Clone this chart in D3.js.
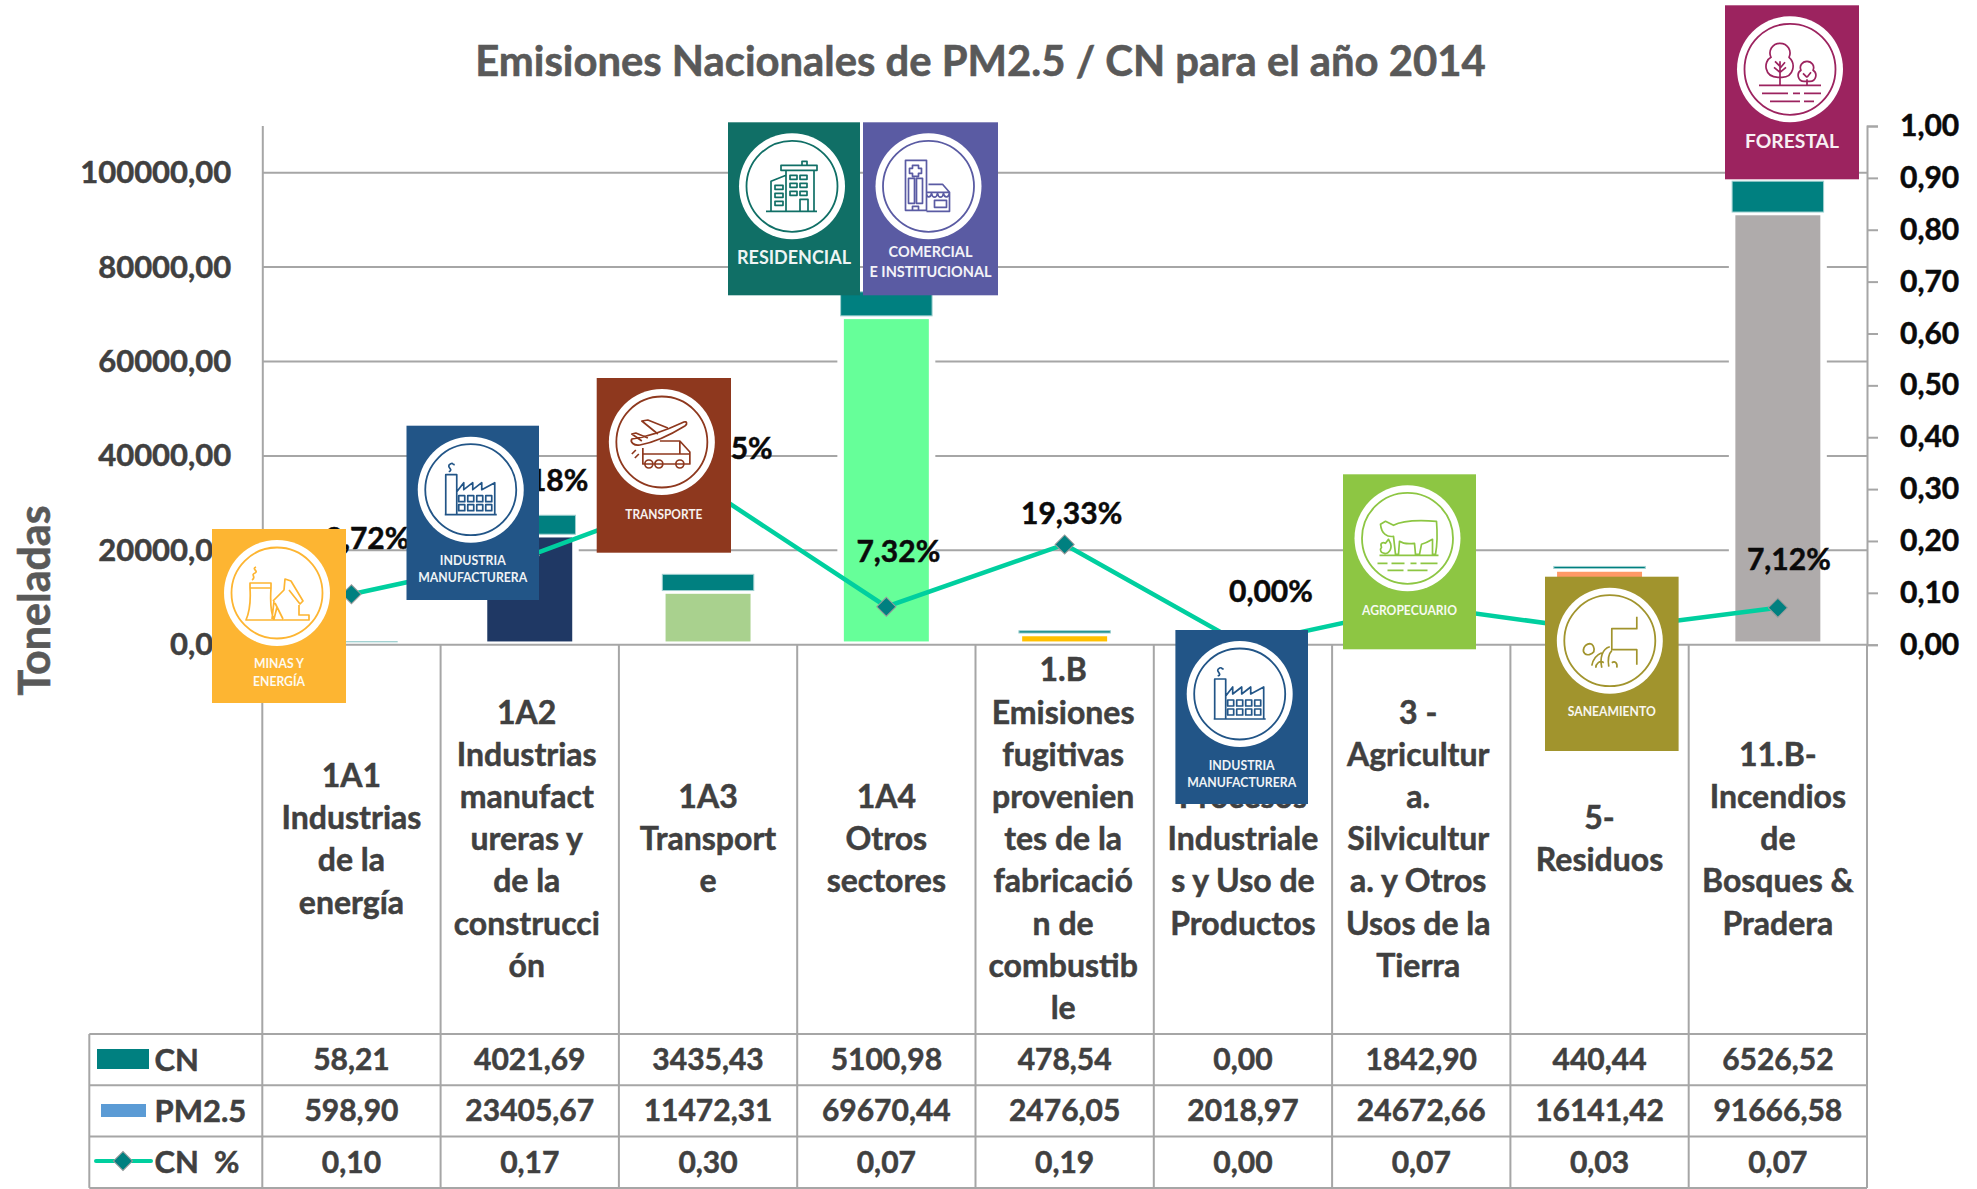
<!DOCTYPE html>
<html lang="es"><head><meta charset="utf-8">
<script src="https://cdn.jsdelivr.net/npm/d3@7/dist/d3.min.js"></script>
<style>
html,body{margin:0;padding:0;background:#fff}
svg{display:block}
text{font-family:Lato,"Open Sans",sans-serif;font-weight:700}
</style></head><body><div id="chart"></div>
<script>
// ---- data ----
const categories = ["1A1","1A2","1A3","1A4","1.B","2","3","5","11.B"];
const categoryLines = [
 ["1A1","Industrias","de la","energía"],
 ["1A2","Industrias","manufact","ureras y","de la","construcci","ón"],
 ["1A3","Transport","e"],
 ["1A4","Otros","sectores"],
 ["1.B","Emisiones","fugitivas","provenien","tes de la","fabricació","n de","combustib","le"],
 ["2 -","Procesos","Industriale","s y Uso de","Productos"],
 ["3 -","Agricultur","a.","Silvicultur","a. y Otros","Usos de la","Tierra"],
 ["5-","Residuos"],
 ["11.B-","Incendios","de","Bosques &","Pradera"]
];
const cnValues = [58.21,4021.69,3435.43,5100.98,478.54,0,1842.90,440.44,6526.52];
const pmValues = [598.90,23405.67,11472.31,69670.44,2476.05,2018.97,24672.66,16141.42,91666.58];
const cnPercent = [0.0972,0.1718,0.2995,0.0732,0.1933,0,0.0747,0.0273,0.0712];
const pmColors = ["#5B9BD5","#1F3864","#A9D18E","#66FF99","#FFC000","#A5A5A5","#70AD47","#FF9966","#AFABAB"];
const leftTicks = [0,20000,40000,60000,80000,100000];
const rightTicks = [0,.1,.2,.3,.4,.5,.6,.7,.8,.9,1];
const titleText = "Emisiones Nacionales de PM2.5 / CN para el año 2014";
const yTitle = "Toneladas";

// ---- layout ----
const W=1977,H=1189, x0=262.3,x1=1867, y0=644.7, yTop=125.5, tableTop=1034, rowH=51.3, tableLeft=89.3;
const GRID="#a6a6a6", TEXT="#404040", TEAL="#008080", LINE="#00CF9F";
const labelOffsets=[[16,-56],[8,-75],[14,-41],[12,-55],[7,-31],[28,-53],[0,-40],[0,-40],[11,-48]];
const catDx=[0,-3,0,0,-1.5,0,-3,0,0];

const loc=d3.formatLocale({decimal:",",thousands:"",grouping:[3],currency:["",""]});
const f2=loc.format(".2f"), pct=loc.format(".2%");

const svg=d3.select("#chart").append("svg").attr("width",W).attr("height",H).attr("viewBox",`0 0 ${W} ${H}`);
const x=d3.scaleBand().domain(categories).range([x0,x1]);
const yL=d3.scaleLinear().domain([0,110000]).range([y0,yTop]);
const yR=d3.scaleLinear().domain([0,1]).range([y0,126]);
const barW=x.bandwidth()*0.513;
const heavy=(sel,c,w=0.5)=>sel.attr("stroke",c).attr("stroke-width",w);

// title
heavy(svg.append("text").attr("x",980.5).attr("y",75.5).attr("text-anchor","middle").attr("font-size",41.8).attr("fill","#595959").text(titleText),"#595959",0.6);
heavy(svg.append("text").attr("transform","translate(50,600.5) rotate(-90)").attr("text-anchor","middle").attr("font-size",43).attr("fill","#595959").text(yTitle),"#595959",0.6);

// gridlines
svg.append("g").selectAll("line").data(leftTicks.slice(1)).join("line")
 .attr("x1",x0).attr("x2",x1).attr("y1",d=>yL(d)).attr("y2",d=>yL(d)).attr("stroke",GRID).attr("stroke-width",2);

// bars
const bars=svg.append("g");
bars.selectAll("rect.pm").data(categories).join("rect").attr("class","pm")
 .attr("x",d=>x(d)+x.bandwidth()/2-barW/2).attr("width",barW)
 .attr("y",(d,i)=>yL(pmValues[i])).attr("height",(d,i)=>y0-yL(pmValues[i]))
 .attr("fill",(d,i)=>pmColors[i]).attr("stroke","#fff").attr("stroke-width",6.5);
bars.selectAll("rect.cn").data(categories).join("rect").attr("class","cn")
 .attr("x",d=>x(d)+x.bandwidth()/2-barW/2).attr("width",barW)
 .attr("y",(d,i)=>yL(pmValues[i]+cnValues[i])).attr("height",(d,i)=>yL(pmValues[i])-yL(pmValues[i]+cnValues[i]))
 .attr("fill",TEAL).attr("stroke",(d,i)=>cnValues[i]?"#9fd0d0":"none").attr("stroke-width",1);

// axes
const axL=svg.append("g").attr("transform",`translate(${x0},0)`).call(d3.axisLeft(yL).tickValues(leftTicks).tickFormat(f2).tickSize(0).tickPadding(31));
axL.select(".domain").attr("stroke",GRID).attr("stroke-width",2);
axL.selectAll("text").attr("font-size",31).attr("fill",TEXT).attr("stroke",TEXT).attr("stroke-width",.5).style("font-family","Lato").style("font-weight",700);
const axR=svg.append("g").attr("transform",`translate(${x1},0)`).call(d3.axisRight(yR).tickValues(rightTicks).tickFormat(f2).tickSize(11).tickPadding(22));
axR.select(".domain").attr("stroke",GRID).attr("stroke-width",2);
axR.selectAll("line").attr("stroke",GRID).attr("stroke-width",2);
axR.selectAll("text").attr("font-size",30).attr("fill","#0a0a0a").attr("stroke","#0a0a0a").attr("stroke-width",.5).style("font-family","Lato").style("font-weight",700);

// table rules
const rules=svg.append("g").attr("stroke",GRID).attr("stroke-width",2);
rules.append("line").attr("x1",x0).attr("x2",x1).attr("y1",y0).attr("y2",y0);
[0,1,2,3].forEach(r=>rules.append("line").attr("x1",tableLeft).attr("x2",x1).attr("y1",tableTop+r*rowH).attr("y2",tableTop+r*rowH));
rules.append("line").attr("x1",tableLeft).attr("x2",tableLeft).attr("y1",tableTop).attr("y2",tableTop+3*rowH);
rules.append("line").attr("x1",x0).attr("x2",x0).attr("y1",y0).attr("y2",tableTop+3*rowH);
categories.forEach(c=>rules.append("line").attr("x1",x(c)+x.bandwidth()).attr("x2",x(c)+x.bandwidth()).attr("y1",y0).attr("y2",tableTop+3*rowH));

// category labels
const LH=42.2, catCy=839;
categories.forEach((c,i)=>{
 const ls=categoryLines[i], st=catCy-(ls.length-1)*LH/2;
 svg.append("g").selectAll("text").data(ls).join("text")
  .attr("x",x(c)+x.bandwidth()/2+catDx[i]).attr("y",(d,k)=>st+k*LH).attr("dy","0.35em")
  .attr("text-anchor","middle").attr("font-size",32).attr("fill",TEXT).attr("stroke",TEXT).attr("stroke-width",.5).text(d=>d);
});

// table values
const tableRows=[cnValues,pmValues,cnPercent];
tableRows.forEach((row,r)=>{
 svg.append("g").selectAll("text").data(row).join("text")
  .attr("x",(d,i)=>x(categories[i])+x.bandwidth()/2).attr("y",tableTop+rowH*(r+.5)).attr("dy","0.35em")
  .attr("text-anchor","middle").attr("font-size",30).attr("fill",TEXT).attr("stroke",TEXT).attr("stroke-width",.5).text(d=>f2(d));
});

// legend keys
const rowLabels=["CN","PM2.5","CN  %"];
rowLabels.forEach((t,r)=>svg.append("text").attr("x",154.5).attr("y",tableTop+rowH*(r+.5)).attr("dy","0.35em")
 .attr("xml:space","preserve").style("white-space","pre").attr("font-size",31).attr("fill",TEXT).attr("stroke",TEXT).attr("stroke-width",.5).text(t));
svg.append("rect").attr("x",97).attr("y",1049).attr("width",52).attr("height",20).attr("fill",TEAL);
svg.append("rect").attr("x",101).attr("y",1104).attr("width",45).attr("height",13).attr("fill","#5B9BD5");
svg.append("line").attr("x1",96).attr("x2",151).attr("y1",1161).attr("y2",1161).attr("stroke",LINE).attr("stroke-width",4).attr("stroke-linecap","round");
const sym=d3.symbol().type(d3.symbolSquare).size(182);
svg.append("path").attr("d",sym()).attr("transform","translate(123,1161) rotate(45)").attr("fill",TEAL).attr("stroke","#9a9a9a").attr("stroke-width",1);

// CN % line
const pts=categories.map((c,i)=>[x(c)+x.bandwidth()/2,yR(cnPercent[i])]);
svg.append("path").attr("d",d3.line()(pts)).attr("fill","none").attr("stroke",LINE).attr("stroke-width",4.5);
svg.append("g").selectAll("path").data(pts).join("path").attr("d",sym())
 .attr("transform",d=>`translate(${d[0]},${d[1]}) rotate(45)`).attr("fill",TEAL).attr("stroke","#9a9a9a").attr("stroke-width",1);
svg.append("g").selectAll("text").data(cnPercent).join("text")
 .attr("x",(d,i)=>pts[i][0]+labelOffsets[i][0]).attr("y",(d,i)=>pts[i][1]+labelOffsets[i][1]).attr("dy","0.35em")
 .attr("text-anchor","middle").attr("font-size",30).attr("fill","#0a0a0a").attr("stroke","#0a0a0a").attr("stroke-width",.5).text(d=>pct(d));

// sector cards
const win=(xs,ys,w,h)=>xs.flatMap(a=>ys.map(b=>`M${a} ${b}h${w}v${h}h${-w}Z`)).join("");
const circ=(a,b,r)=>`M${a-r} ${b}a${r} ${r} 0 1 0 ${2*r} 0a${r} ${r} 0 1 0 ${-2*r} 0`;
const factory="M-25 -15H-14V25H-25Z M-14 2L-7 -7V0L2 -7V0L11 -7V0L24 -7V25H-14 M-26 25H26 M-22 -18C-16 -20 -26 -23 -20 -26C-17 -27 -19 -25 -16 -25"+win([-12,-3,6,15],[6,15],6,6);
const icons={
 minas:"M-27 -10H-6V-5H-27Z M-27 -5C-26 10 -28 20 -31 27H-3C-6 20 -7 10 -6 -5 M-25 -13C-20 -16 -27 -18 -22 -20C-18 -22 -26 -24 -21 -26 M-4 8L7 -3L8 -14L14 -12L26 8L23 11L12 -3 M-3 8L-5 26 M-2 10L6 26 M0 14L-3 26 M22 12V22H32V27H-3",
 industria:factory,
 transporte:"M-30 -3C-15 -5 5 -12 22 -20C25 -21 26 -18 23 -16C10 -8 -5 0 -22 3C-28 4 -32 0 -30 -3Z M-4 -8L-20 -21L-14 -22L6 -14 M-20 -1L-30 -8L-26 -9L-14 -4 M-19 6V22H28V10L18 -1H-2 M18 -1V12H28 M-19 12H18 M-26 8L-30 12 M-23 12L-27 16"+circ(-13,22,4)+circ(-3,22,4)+circ(18,22,4),
 residencial:"M-6 25V-16H22V25 M-11 -21H25V-16H-11Z M10 -25H15V-21H10Z M-6 -11L-21 -5V25 M-26 25H25 M8 25V13H16V25"+win([-2,8],[-11,-3,5],7,4)+win([-17],[-1,7,15],8,4),
 comercial:"M-23 -26H-2V24H-23Z M-20 -8H-14V17H-20Z M-12 -8H-6V17H-12Z M-16 -21H-10V-18H-7V-13H-10V-10H-16V-13H-19V-18H-16Z M-16 24V20H-10V24 M0 -2H14L21 6V25H-2 M-2 6H21 M-2 6C-2 12 2 12 3 7C4 12 8 12 9 7C10 12 14 12 15 7C16 12 20 12 21 6 M6 14H18V21H6Z",
 forestal:"M-10 17V-8 M-10 -3L-15 -8 M-10 -1L-5 -7 M-10 3L-16 -2 M-10 3L-4 -2 M-10 -26C-18 -26 -22 -18 -19 -12C-27 -8 -26 8 -12 8H-8C4 8 6 -6 -1 -12C2 -18 -2 -26 -10 -26Z M17 10V17 M17 8L13 4 M17 8L21 3 M17 -8C12 -8 9 -3 11 1C6 4 8 12 14 12H20C26 12 28 4 23 1C25 -3 22 -8 17 -8Z M-31 16H31 M-28 24H-2 M3 24H10 M14 24H31 M-20 32H10 M14 32H24",
 agro:"M-27 -14L-22 -17L-14 -13C-5 -18 15 -18 29 -17C30 -5 30 5 28 16H25V1C20 4 18 5 14 6L12 16H8L7 5C0 6 -5 5 -8 3L-9 16H-12L-14 -2C-20 -1 -26 -4 -27 -14Z M-28 17H31 M-30 25H-20 M-16 25H-3 M3 25H9 M13 25H30 M-20 32H-4 M0 32H20 M-26 9C-28 4 -24 4 -22 5L-19 1L-17 5C-15 12 -20 16 -23 15C-27 15 -28 11 -26 9Z",
 saneamiento:"M27 -24V-12H2V9H27V24 M0 6C-8 8 -10 18 -8 27 M2 10C-2 14 -2 20 -1 26 M-8 12C-13 14 -17 19 -18 25 M-6 22C-10 19 -14 23 -14 27 M2 22C5 20 8 22 7 27 M-20 3C-26 4 -28 10 -25 13C-23 15 -18 14 -16 11C-15 7 -17 3 -20 3Z"
};
const cardIds=["minas","industria","transporte","residencial","comercial","forestal","industria","agro","saneamiento"];
const cardNames=[["MINAS Y","ENERGÍA"],["INDUSTRIA","MANUFACTURERA"],["TRANSPORTE"],["RESIDENCIAL"],["COMERCIAL","E INSTITUCIONAL"],["FORESTAL"],["INDUSTRIA","MANUFACTURERA"],["AGROPECUARIO"],["SANEAMIENTO"]];
const cardColors=["#FDB532","#225587","#8E381E","#106F66","#5A5BA3","#9C235F","#225587","#8DC643","#A1942D"];
const cardBox=[[212,529,134,174],[406.5,425.7,132.5,174.3],[596.7,378,134.3,174.7],[728,122.3,132,173],[863,122.3,135,173],[1725,5.3,134,174],[1175.4,630,132.6,174],[1343,474.3,133,175],[1545,576.7,133.6,174.3]];
const cardFont=[13,13,13,18,16,19,13,13,13];
const cardWidths=[[50,52],[66,109],[77],[114],[84,122],[94],[66,109],[95],[88]];
const cardLineY=[[134,152],[135,152],[136],[135],[129,149],[136],[135,152],[136],[135]];
const cards=svg.append("g");
cardIds.forEach((id,i)=>{
 const [cx,cy,cw,ch]=cardBox[i], col=cardColors[i];
 const g=cards.append("g").attr("transform",`translate(${cx},${cy})`);
 g.append("rect").attr("width",cw).attr("height",ch).attr("fill",col);
 const ic=g.append("g").attr("transform",`translate(${cw/2-2},64)`);
 ic.append("circle").attr("r",53).attr("fill","#fff");
 ic.append("circle").attr("r",45.5).attr("fill","none").attr("stroke",col).attr("stroke-width",1.8);
 ic.append("path").attr("d",icons[id]).attr("fill","none").attr("stroke",col).attr("stroke-width",1.7).attr("stroke-linejoin","round");
 cardNames[i].forEach((t,k)=>g.append("text").attr("x",cw/2).attr("y",cardLineY[i][k]).attr("dy","0.35em")
   .attr("text-anchor","middle").attr("font-size",cardFont[i]).attr("fill","#fff").attr("opacity",.93)
   .attr("textLength",cardWidths[i][k]).attr("lengthAdjust","spacingAndGlyphs").text(t));
});
</script></body></html>
